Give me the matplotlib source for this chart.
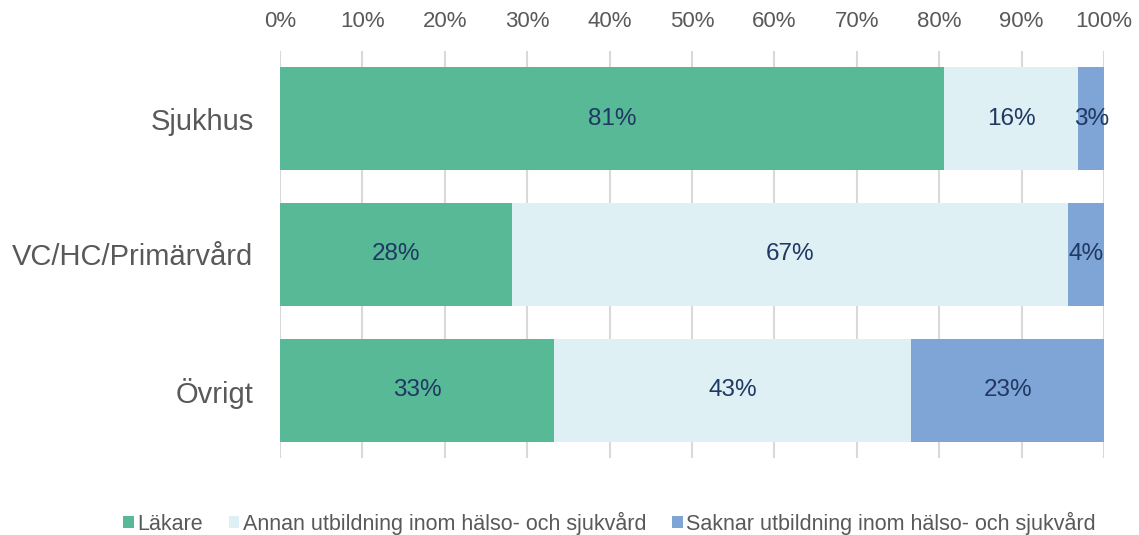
import matplotlib.pyplot as plt
import numpy as np

plt.rcParams['font.family'] = ['Liberation Sans', 'DejaVu Sans']

categories = ['Sjukhus', 'VC/HC/Primärvård', 'Övrigt']
series_names = ['Läkare', 'Annan utbildning inom hälso- och sjukvård',
                'Saknar utbildning inom hälso- och sjukvård']
lakare = [80.6, 28.2, 33.3]
annan = [16.3, 67.4, 43.3]
saknar = [3.1, 4.4, 23.4]
colors = ['#57B995', '#DFF0F4', '#7FA4D6']

fig = plt.figure(figsize=(11.39, 5.35), dpi=100)
ax = fig.add_axes([0.2458, 0.143, 0.7235, 0.7626])

y = np.arange(len(categories))
left = np.zeros(len(categories))
for name, vals, c in zip(series_names, [lakare, annan, saknar], colors):
    bars = ax.barh(y, vals, left=left, height=0.757, color=c, label=name, zorder=2)
    ax.bar_label(bars, labels=['%.0f%%' % v for v in vals], label_type='center',
                 color='#203864', fontsize=17.5)
    left += np.array(vals)

ax.set_xlim(0, 100)
ax.set_ylim(2.5, -0.5)
ax.set_yticks(y)
ax.set_yticklabels(categories, fontsize=21, color='#595959')
ax.set_xticks(np.arange(0, 101, 10))
ax.set_xticklabels(['%d%%' % t for t in range(0, 101, 10)], fontsize=16, color='#595959')
ax.xaxis.tick_top()
ax.tick_params(length=0)
ax.tick_params(axis='y', pad=19)
ax.tick_params(axis='x', pad=13)
ax.grid(axis='x', color='#D9D9D9', linewidth=1.5, zorder=0)
for s in ax.spines.values():
    s.set_visible(False)

fig.legend(loc='lower center', bbox_to_anchor=(0.535, -0.036), ncol=3, frameon=False,
           fontsize=15.5, handlelength=0.5, handleheight=0.5, handletextpad=0.15,
           columnspacing=1.2, labelcolor='#595959')

fig.savefig('out.png', dpi=100)
